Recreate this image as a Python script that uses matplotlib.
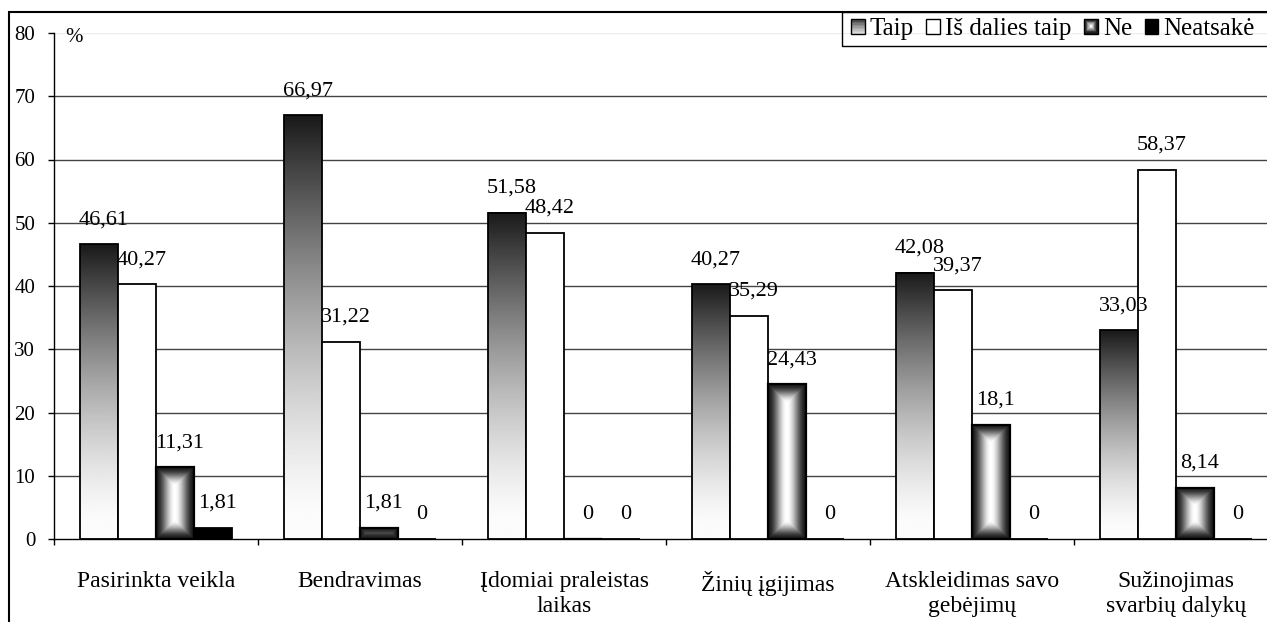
import numpy as np
import matplotlib
matplotlib.use('Agg')
import matplotlib.pyplot as plt
from matplotlib.patches import Rectangle
from matplotlib.legend_handler import HandlerBase

plt.rcParams['font.family'] = ['Liberation Serif', 'DejaVu Serif']
plt.rcParams['font.size'] = 16

################################################################################################
categories = ['Pasirinkta veikla', 'Bendravimas', 'Įdomiai praleistas\nlaikas',
              'Žinių įgijimas', 'Atskleidimas savo\ngebėjimų', 'Sužinojimas\nsvarbių dalykų']
series_names = ['Taip', 'Iš dalies taip', 'Ne', 'Neatsakė']
taip = [46.61, 66.97, 51.58, 40.27, 42.08, 33.03]
is_dalies = [40.27, 31.22, 48.42, 35.29, 39.37, 58.37]
ne = [11.31, 1.81, 0, 24.43, 18.1, 8.14]
neatsake = [1.81, 0, 0, 0, 0, 0]
y_ticks = [0, 10, 20, 30, 40, 50, 60, 70, 80]
################################################################################################

series = [taip, is_dalies, ne, neatsake]
kinds = ['vert', 'white', 'box', 'black']


def vert_gray(frac):
    # frac 0 = top of bar, 1 = bottom
    return np.clip(1 - 0.9 * (1 - frac) ** 1.5, 0, 0.985)


def box_gray(e):
    # e 0 = at the edge, 1 = in the middle (smoothstep)
    e = np.clip(e, 0, 1)
    return 0.1 + 0.9 * e * e * (3 - 2 * e)


def grad_image(kind, w_px, h_px):
    if kind == 'vert':
        f = np.linspace(0, 1, 256).reshape(-1, 1)
        return vert_gray(f)
    # "from centre" fill: distance to nearest edge, in pixels
    nx = max(int(round(w_px)), 2)
    ny = max(int(round(h_px)), 2)
    xs = (np.arange(nx) + 0.5) * w_px / nx
    ys = (np.arange(ny) + 0.5) * h_px / ny
    xx, yy = np.meshgrid(xs, ys)
    dist = np.minimum(np.minimum(xx, w_px - xx), np.minimum(yy, h_px - yy))
    return box_gray(dist / (w_px / 2))


class GradHandler(HandlerBase):
    def __init__(self, kind):
        super().__init__()
        self.kind = kind

    def create_artists(self, legend, orig_handle, xdescent, ydescent, width, height, fontsize, trans):
        x0, y0 = -xdescent, -ydescent
        arts = []
        n = 10
        if self.kind == 'vert':
            for i in range(n):
                g = float(vert_gray(0.1 + 0.6 * i / (n - 1)))
                arts.append(Rectangle((x0, y0 + height * (n - 1 - i) / n), width, height / n,
                                      facecolor=(g, g, g), edgecolor='none', transform=trans))
        elif self.kind == 'box':
            for i in range(n):
                s = i / n
                g = float(box_gray(s))
                arts.append(Rectangle((x0 + width * s / 2, y0 + height * s / 2),
                                      width * (1 - s), height * (1 - s),
                                      facecolor=(g, g, g), edgecolor='none', transform=trans))
        else:
            fc = 'white' if self.kind == 'white' else 'black'
            arts.append(Rectangle((x0, y0), width, height, facecolor=fc,
                                  edgecolor='none', transform=trans))
        arts.append(Rectangle((x0, y0), width, height, facecolor='none',
                              edgecolor='black', lw=1, transform=trans))
        return arts


W, H = 1267, 622
fig = plt.figure(figsize=(W / 100, H / 100), dpi=100)
ax = fig.add_axes([54 / W, (H - 539) / H, 6 * 204 / W, (539 - 33) / H])

x = np.arange(len(categories))
bw = 0.186
offsets = (np.arange(4) - 1.5) * bw
ax.set_xlim(-0.5, len(categories) - 0.5)
ax.set_ylim(0, 80)

for vals, kind, off, name in zip(series, kinds, offsets, series_names):
    fc = {'white': 'white', 'black': 'black'}.get(kind, 'none')
    bars = ax.bar(x + off, vals, bw, facecolor=fc, edgecolor='black',
                  lw=1.6 if kind == 'box' else 1.3, zorder=3, label=name)
    for b, v in zip(bars, vals):
        if kind in ('vert', 'box') and v > 0:
            # bar size in pixels, for the gradient
            p0 = ax.transData.transform((b.get_x(), 0))
            p1 = ax.transData.transform((b.get_x() + b.get_width(), b.get_height()))
            img = grad_image(kind, abs(p1[0] - p0[0]), abs(p1[1] - p0[1]))
            ax.imshow(img, cmap='gray', vmin=0, vmax=1, aspect='auto',
                      interpolation='bilinear', origin='upper', zorder=2.5,
                      extent=[b.get_x(), b.get_x() + b.get_width(), 0, b.get_height()])
        lbl = f'{v:g}'.replace('.', ',')
        ax.annotate(lbl, (b.get_x() + b.get_width() / 2, v), xytext=(3.5, 17.5),
                    textcoords='offset points', ha='center', va='center', zorder=4,
                    fontsize=16)

# gridlines
for t in y_ticks[1:-1]:
    ax.axhline(t, color='#444444', lw=1, zorder=1)
ax.axhline(y_ticks[-1], color='#eeeeee', lw=1, zorder=1)

ax.set_xlim(-0.5, len(categories) - 0.5)
ax.set_ylim(0, 80)
ax.set_yticks(y_ticks)
ax.set_yticklabels([str(t) for t in y_ticks], fontsize=15)
ax.set_xticks(x)
ax.set_xticklabels(categories, linespacing=1.25, fontsize=17)
ax.set_xticks(np.arange(len(categories) + 1) - 0.5, minor=True)
ax.tick_params(axis='x', which='major', length=0, pad=23)
ax.tick_params(axis='x', which='minor', length=4.5, width=1, direction='out')
ax.tick_params(axis='y', length=4.5, width=1, direction='out', pad=9)
for s in ['top', 'right']:
    ax.spines[s].set_visible(False)
for s in ['left', 'bottom']:
    ax.spines[s].set_linewidth(1)

ax.annotate('%', (0, 1), xycoords='axes fraction', xytext=(8, -3), textcoords='offset points',
            ha='left', va='center', fontsize=15, annotation_clip=False)

# outer frame (cut off at right and bottom)
fig.patches.append(Rectangle((9 / W, -0.5), 1.5, 1.5 - 12 / H, transform=fig.transFigure,
                             fill=False, edgecolor='black', lw=1.5))
# legend box, open to the right
fig.patches.append(Rectangle((842 / W, 1 - 46 / H), 1.0, 34 / H, transform=fig.transFigure,
                             fill=False, edgecolor='black', lw=1))

handles, labels = ax.get_legend_handles_labels()
leg = fig.legend(handles, labels, loc='center left', bbox_to_anchor=(851 / W, 1 - 29 / H),
                 ncol=4, frameon=False, handlelength=0.55, handleheight=0.55,
                 handletextpad=0.2, columnspacing=0.5, borderpad=0, borderaxespad=0,
                 fontsize=18,
                 handler_map={h: GradHandler(k) for h, k in zip(handles, kinds)})

fig.savefig('out.png', dpi=100)
